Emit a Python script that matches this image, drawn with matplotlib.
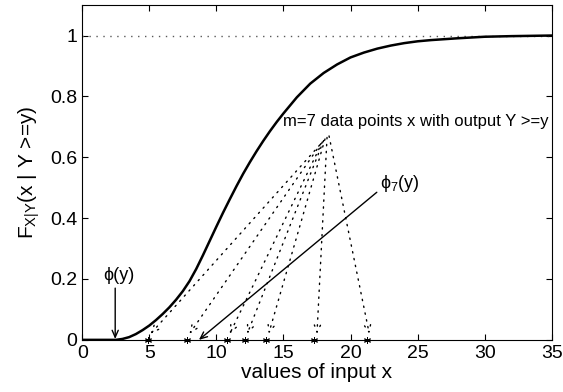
import numpy as np
import matplotlib
matplotlib.use('Agg')
import matplotlib.pyplot as plt

plt.rcParams['font.family'] = ['Liberation Sans', 'DejaVu Sans']
plt.rcParams['mathtext.fontset'] = 'custom'
plt.rcParams['mathtext.rm'] = 'Liberation Sans'
plt.rcParams['mathtext.it'] = 'Liberation Sans'

# conditional cdf
cdf_x = [0, 2.5, 3.0, 3.5, 4.0, 4.5, 5.0, 5.5, 6.0, 6.5, 7.0, 7.5, 8.0, 8.5, 9.0,
         9.5, 10.0, 10.5, 11.0, 11.5, 12.0, 12.5, 13.0, 13.5, 14.0, 14.5, 15.0,
         16.0, 17.0, 18.0, 19.0, 20.0, 21.0, 22.0, 23.0, 24.0, 25.0, 26.0, 28.0,
         30.0, 32.0, 35.0]
cdf_y = [0, 0, 0.003, 0.009, 0.019, 0.032, 0.047, 0.065, 0.085, 0.107, 0.132,
         0.16, 0.193, 0.233, 0.278, 0.325, 0.372, 0.418, 0.462, 0.505, 0.546, 0.584,
         0.62, 0.654, 0.686, 0.716, 0.744, 0.797, 0.842, 0.877, 0.905, 0.928, 0.944,
         0.957, 0.967, 0.975, 0.981, 0.985, 0.991, 0.996, 0.998, 1.0]

# the m=7 data points with output Y >= y
points_x = [4.9, 7.8, 10.8, 12.1, 13.7, 17.3, 21.2]
# where each dotted arrow starts (below the label)
src_x = [17.7, 17.8, 17.9, 18.0, 18.1, 18.25, 18.4]
src_y = [0.64, 0.645, 0.65, 0.655, 0.66, 0.665, 0.67]

phi_x = 2.46      # phi(y)
phi7_x = 8.7      # phi_7(y)
phi7_end = (21.96, 0.485)

fig = plt.figure(figsize=(5.63, 3.92), dpi=100)
ax = fig.add_axes([0.146, 0.133, 0.834, 0.854])

ax.plot([0, 35], [1, 1], ls=(0, (1, 4)), color='0.35', lw=1)
ax.plot(cdf_x, cdf_y, '-', color='k', lw=1.8)

ax.plot(points_x, np.zeros(len(points_x)), ls='none', marker=(6, 2, 0),
        ms=5, mew=0.7, color='k', clip_on=False, zorder=5)

head = '->,head_length=0.5,head_width=0.22'
for i in range(len(points_x)):
    ax.annotate('', xy=(points_x[i] + 0.2, 0.02), xytext=(src_x[i], src_y[i]),
                arrowprops=dict(arrowstyle=head, ls=(0, (1, 4)), lw=1, color='k',
                                shrinkA=0, shrinkB=0, mutation_scale=10))

ax.annotate('', xy=(phi_x, 0.003), xytext=(phi_x, 0.17),
            arrowprops=dict(arrowstyle=head, lw=1, color='k',
                            shrinkA=0, shrinkB=0, mutation_scale=10))
ax.text(phi_x + 0.3, 0.21, '\u03d5(y)', fontsize=13, ha='center', va='center')

ax.annotate('', xy=(phi7_x, 0.0), xytext=phi7_end,
            arrowprops=dict(arrowstyle=head, lw=1, color='k',
                            shrinkA=0, shrinkB=0, mutation_scale=10))
ax.text(22.2, 0.515, '\u03d5$_7$(y)', fontsize=13, ha='left', va='center')

ax.text(15.0, 0.716, 'm=7 data points x with output Y >=y', fontsize=12,
        ha='left', va='center')

ax.set_xlim(0, 35)
ax.set_ylim(0, 1.1)
ax.set_xticks(range(0, 36, 5))
ax.set_yticks([0, 0.2, 0.4, 0.6, 0.8, 1])
ax.set_yticklabels(['0', '0.2', '0.4', '0.6', '0.8', '1'])
ax.tick_params(direction='in', top=True, right=True, labelsize=14, length=4)
ax.set_xlabel('values of input x', fontsize=15, labelpad=1)
ax.set_ylabel('F$_{X|Y}$(x | Y >=y)', fontsize=15, labelpad=6)

fig.savefig('out.png', dpi=100)
